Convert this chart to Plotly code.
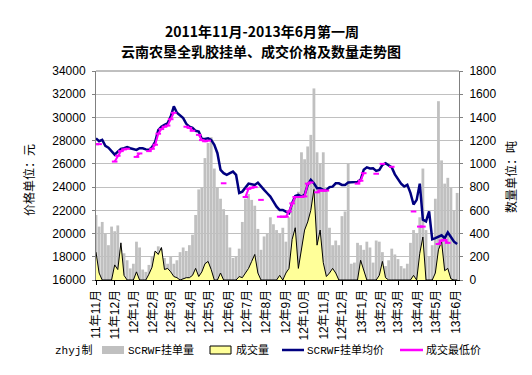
import pandas as pd
import plotly.graph_objects as go

# ---- data ----
dates = pd.date_range("2011-11-01", periods=117, freq="5D")

month_ticks = pd.date_range("2011-11-01", "2013-06-01", freq="MS")
month_labels = ["11年11月", "11年12月", "12年1月", "12年2月", "12年3月", "12年4月",
                "12年5月", "12年6月", "12年7月", "12年8月", "12年9月", "12年10月",
                "12年11月", "12年12月", "13年1月", "13年2月", "13年3月", "13年4月",
                "13年5月", "13年6月"]

# SCRWF挂单量 (吨)
listing_qty = [560, 460, 500, 400, 300, 460, 420, 470, 260, 230,
               170, 100, 140, 330, 280, 90, 70, 130, 200, 240,
               290, 270, 190, 140, 200, 140, 170, 240, 280, 250,
               300, 390, 560, 780, 800, 1050, 1180, 1230, 960, 800,
               700, 610, 560, 280, 190, 200, 270, 500, 700, 740,
               690, 640, 440, 260, 375, 400, 540, 480, 430, 400,
               450, 330, 540, 660, 720, 760, 1100, 1040, 1150, 1250,
               1650, 1100, 1000, 1100, 780, 450, 300, 340, 300, 550,
               590, 1000, 140, 150, 320, 300, 260, 330, 280, 150,
               340, 330, 240, 120, 170, 270, 220, 180, 120, 100,
               140, 320, 430, 400, 540, 960, 430, 200, 300, 700,
               1540, 1030, 830, 880, 800, 600, 750]

# 成交量 (吨)
deal_qty = [240, 60, 0, 0, 0, 0, 130, 90, 320, 40,
            0, 0, 0, 70, 0, 0, 0, 50, 110, 250,
            220, 280, 90, 100, 70, 30, 20, 0, 10, 20,
            20, 40, 100, 30, 70, 140, 160, 90, 0, 0,
            60, 0, 0, 0, 0, 0, 30, 20, 60, 100,
            160, 220, 60, 0, 0, 0, 0, 0, 0, 40,
            0, 60, 100, 350, 450, 100, 280, 430, 500, 600,
            780, 300, 430, 150, 30, 60, 100, 60, 0, 0,
            0, 0, 0, 0, 0, 170, 90, 0, 0, 0,
            0, 40, 160, 20, 0, 0, 0, 0, 0, 0,
            0, 0, 40, 0, 230, 370, 0, 0, 0, 60,
            260, 330, 80, 100, 10, 0, 0]

# SCRWF挂单均价 (元)
avg_price = [28200, 27950, 28070, 27550, 27400, 27100, 26800, 27050, 27300, 27350,
             27440, 27350, 27300, 27200, 27350, 27350, 27250, 27200, 27440, 27900,
             28900, 29200, 29360, 29500, 30080, 30950, 30400, 30200, 29940, 29450,
             29210, 29100, 28850, 28780, 28150, 28150, 28200, 28070, 27640, 26920,
             25480, 25200, 25050, 25200, 25340, 25050, 23500, 23610, 24000, 24300,
             24250, 24190, 24390, 24040, 23760, 23470, 23180, 22750, 22320, 22030,
             22030, 21890, 21750, 22610, 23240, 23330, 23180, 23330, 24200, 24620,
             24330, 23900, 23900, 23760, 23760, 24000, 24040, 24330, 24330, 24190,
             24190, 24390, 24390, 24390, 24450, 24620, 25500, 25700, 25600, 25630,
             25400, 25480, 25910, 26060, 25910, 25700, 25100, 24700, 24300, 24050,
             24200, 23500, 22500, 22900, 24300, 21200, 21050, 21900, 19500, 19600,
             19750, 19850, 19600, 20100, 19700, 19300, 19100]

# 成交最低价 (元), None = no deal
N = None
min_price = [27700, 27700, N, N, N, N, 26200, 26700, 27100, 27250,
             27300, N, N, 26600, 26900, N, N, 27100, 27300, 27650,
             28600, 29000, 29200, 29300, 29850, 30400, N, N, N, 29200,
             29100, 28850, N, 28500, 28050, 27950, 28000, N, N, N,
             N, 24330, N, N, N, N, N, N, 23150, 23850,
             23950, 24000, N, 22900, N, N, N, N, N, 21450,
             21450, 21450, 21900, 22600, 23150, 23150, 23150, 23200, 24300, 24400,
             N, 23550, 23700, 23700, 23700, N, N, N, N, N,
             N, N, N, N, 24300, 24550, 25200, N, N, N,
             25150, N, 26000, N, N, 25750, N, N, N, N,
             N, N, 21900, N, 20600, 20600, N, N, N, N,
             19100, 19400, 19450, 19200, N, N, N]

series_names = ["SCRWF挂单量", "成交量", "SCRWF挂单均价", "成交最低价"]
series_colors = ["#C0C0C0", "#FFFF99", "#000080", "#FF00FF"]

FONT = "Liberation Sans, Noto Sans CJK SC, sans-serif"
MONO = "Liberation Mono, Noto Sans CJK SC, monospace"
CJK = "Noto Sans CJK SC, sans-serif"

fig = go.Figure()
fig.add_trace(go.Bar(x=dates, y=listing_qty, name=series_names[0], yaxis="y",
                     marker=dict(color=series_colors[0], line=dict(width=0))))
fig.add_trace(go.Scatter(x=dates, y=deal_qty, name=series_names[1], yaxis="y", mode="lines",
                         fill="tozeroy", fillcolor=series_colors[1],
                         line=dict(color="#000000", width=1)))
fig.add_trace(go.Scatter(x=dates, y=avg_price, name=series_names[2], yaxis="y2", mode="lines",
                         line=dict(color=series_colors[2], width=2.5)))
fig.add_trace(go.Scatter(x=dates, y=min_price, name=series_names[3], yaxis="y2",
                         mode="lines+markers", connectgaps=False,
                         line=dict(color=series_colors[3], width=2),
                         marker=dict(symbol="line-ew", size=4,
                                     line=dict(color=series_colors[3], width=2))))

# The page body has an 8px default margin, so the figure is drawn 8px smaller
# and all screen positions below are expressed in window pixels.
PLOT_L, PLOT_R, PLOT_T, PLOT_B = 96, 459, 71, 280


def px_x(p):  # window pixel -> paper x
    return (p - PLOT_L) / float(PLOT_R - PLOT_L)


def px_y(p):  # window pixel -> paper y
    return (PLOT_B - p) / float(PLOT_B - PLOT_T)


ly = 350
shapes = [
    dict(type="line", xref="paper", yref="paper", x0=0, x1=1, y0=1, y1=1,
         line=dict(color="#808080", width=1)),
    # custom legend keys
    dict(type="rect", xref="paper", yref="paper", x0=px_x(102), x1=px_x(124),
         y0=px_y(ly - 4), y1=px_y(ly + 4), fillcolor=series_colors[0],
         line=dict(width=0)),
    dict(type="rect", xref="paper", yref="paper", x0=px_x(210), x1=px_x(231),
         y0=px_y(ly - 4), y1=px_y(ly + 4), fillcolor=series_colors[1],
         line=dict(color="black", width=1)),
    dict(type="line", xref="paper", yref="paper", x0=px_x(282), x1=px_x(304),
         y0=px_y(ly), y1=px_y(ly), line=dict(color=series_colors[2], width=2.5)),
    dict(type="line", xref="paper", yref="paper", x0=px_x(400), x1=px_x(423),
         y0=px_y(ly), y1=px_y(ly), line=dict(color=series_colors[3], width=2.5)),
]

annotations = [
    dict(text="<b>2011年11月-2013年6月第一周</b>",
         xref="paper", yref="paper", x=px_x(262), y=px_y(31.5), xanchor="center",
         yanchor="middle", showarrow=False, font=dict(family=CJK, size=14)),
    dict(text="<b>云南农垦全乳胶挂单、成交价格及数量走势图</b>",
         xref="paper", yref="paper", x=px_x(261), y=px_y(51), xanchor="center",
         yanchor="middle", showarrow=False, font=dict(family=CJK, size=14)),
    dict(text="价格单位：元", xref="paper", yref="paper", x=px_x(28), y=px_y(180),
         textangle=-90, xanchor="center", yanchor="middle", showarrow=False,
         font=dict(family=CJK, size=12)),
    dict(text="数量单位：吨", xref="paper", yref="paper", x=px_x(510), y=px_y(177),
         textangle=-90, xanchor="center", yanchor="middle", showarrow=False,
         font=dict(family=CJK, size=12)),
    dict(text="zhyj制", xref="paper", yref="paper", x=px_x(73.5), y=px_y(ly),
         xanchor="center", yanchor="middle", showarrow=False,
         font=dict(family=MONO, size=11)),
]
for name, xl in zip(series_names, [127, 235, 306, 425]):
    annotations.append(dict(text=name, xref="paper", yref="paper", x=px_x(xl), y=px_y(ly),
                            xanchor="left", yanchor="middle", showarrow=False,
                            xshift=-1, font=dict(family=MONO, size=11)))

fig.update_layout(
    width=524, height=367,
    margin=dict(l=PLOT_L - 8, r=532 - PLOT_R, t=PLOT_T - 8, b=375 - PLOT_B),
    paper_bgcolor="white", plot_bgcolor="white",
    font=dict(family=FONT, size=12, color="black"),
    bargap=0.1,
    showlegend=False,
    xaxis=dict(type="date", range=["2011-11-01", "2013-06-06"],
               tickmode="array", tickvals=month_ticks, ticktext=month_labels,
               tickangle=-90, ticks="outside", ticklen=4, tickcolor="black",
               showline=True, linecolor="black", linewidth=1, showgrid=False,
               tickfont=dict(family=FONT, size=12)),
    yaxis=dict(side="right", range=[0, 1800], dtick=200, tick0=0, tickformat="d",
               showgrid=True, gridcolor="#C0C0C0", gridwidth=1, zeroline=False,
               showline=True, linecolor="#808080", ticks="outside", ticklen=3,
               tickcolor="#808080", ticklabelstandoff=4),
    yaxis2=dict(side="left", overlaying="y", range=[16000, 34000], dtick=2000,
                tick0=16000, tickformat="d", showgrid=False, zeroline=False,
                showline=True, linecolor="#808080", ticks="outside", ticklen=3,
                tickcolor="#808080", ticklabelstandoff=4),
    shapes=shapes,
    annotations=annotations,
)

fig.write_html("out.html")
